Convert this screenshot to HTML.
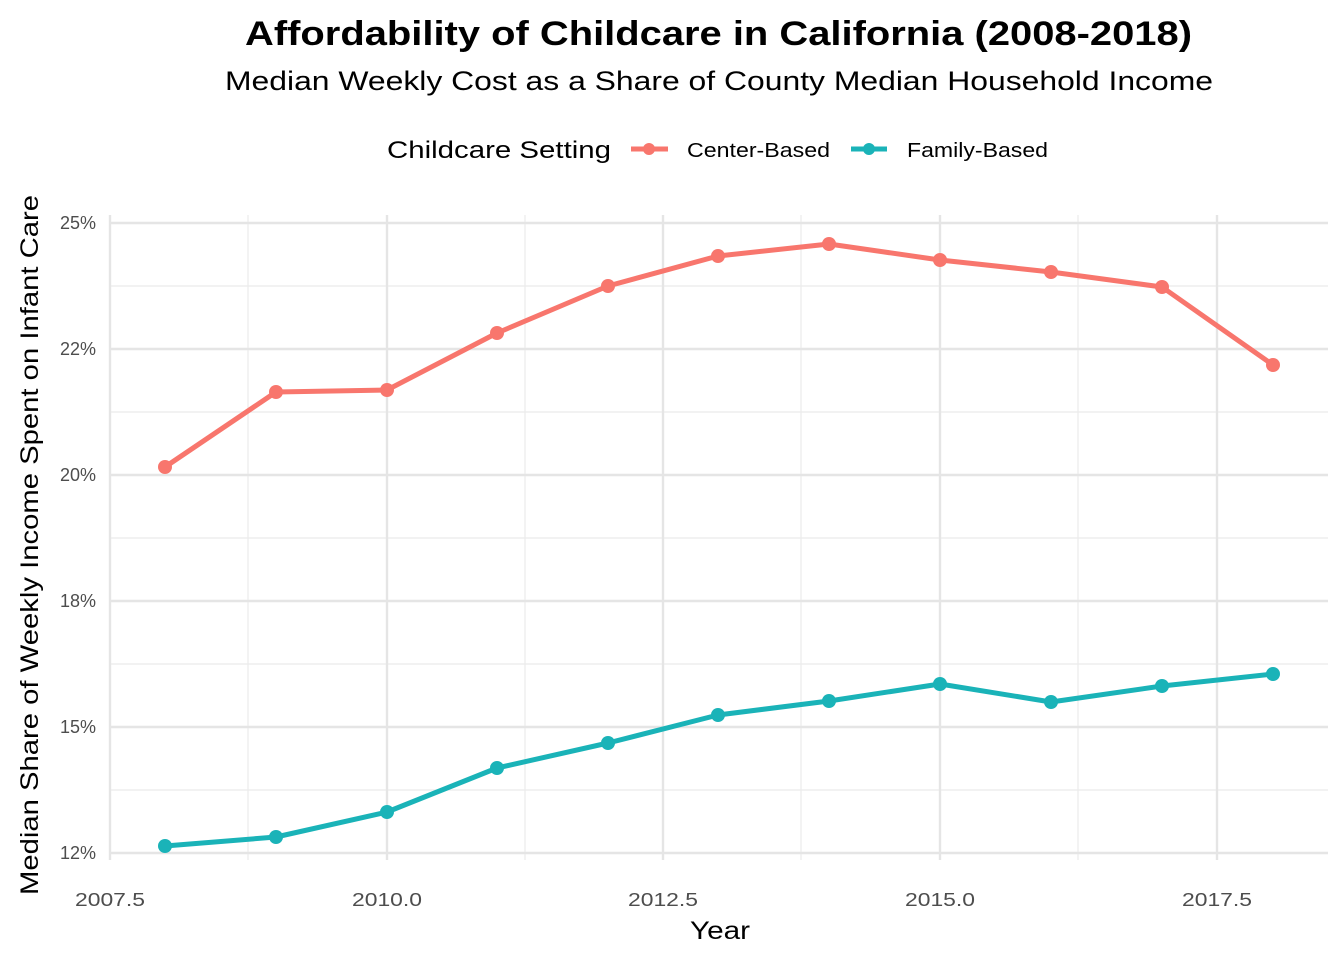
<!DOCTYPE html>
<html><head><meta charset="utf-8"><style>
body{margin:0;background:#fff}
svg{display:block;font-family:"Liberation Sans",Arial,sans-serif}
</style></head><body>
<svg width="1344" height="960" viewBox="0 0 1344 960" xmlns="http://www.w3.org/2000/svg">
<rect width="1344" height="960" fill="#fff"/>
<text x="245" y="45" font-size="34" font-weight="bold" fill="#000" textLength="947" lengthAdjust="spacingAndGlyphs">Affordability of Childcare in California (2008-2018)</text>
<text x="225" y="90" font-size="27" fill="#000" textLength="988" lengthAdjust="spacingAndGlyphs">Median Weekly Cost as a Share of County Median Household Income</text>
<text x="387" y="158" font-size="24" fill="#000" textLength="224" lengthAdjust="spacingAndGlyphs">Childcare Setting</text>
<line x1="631" y1="149" x2="668" y2="149" stroke="#F8766D" stroke-width="5"/>
<circle cx="649" cy="149" r="6" fill="#F8766D"/>
<text x="687" y="157" font-size="20" fill="#000" textLength="143" lengthAdjust="spacingAndGlyphs">Center-Based</text>
<line x1="851" y1="149" x2="887" y2="149" stroke="#1AB3B8" stroke-width="5"/>
<circle cx="869" cy="149" r="6" fill="#1AB3B8"/>
<text x="907" y="157" font-size="20" fill="#000" textLength="141" lengthAdjust="spacingAndGlyphs">Family-Based</text>
<g stroke="#ebebeb" stroke-width="1.2">
<line x1="110" y1="286" x2="1328" y2="286"/><line x1="110" y1="412" x2="1328" y2="412"/>
<line x1="110" y1="538" x2="1328" y2="538"/><line x1="110" y1="664" x2="1328" y2="664"/>
<line x1="110" y1="790" x2="1328" y2="790"/>
<line x1="248" y1="215" x2="248" y2="860"/><line x1="525" y1="215" x2="525" y2="860"/>
<line x1="801" y1="215" x2="801" y2="860"/><line x1="1078" y1="215" x2="1078" y2="860"/>
</g>
<g stroke="#e5e5e5" stroke-width="2.4">
<line x1="110" y1="223" x2="1328" y2="223"/><line x1="110" y1="349" x2="1328" y2="349"/>
<line x1="110" y1="475" x2="1328" y2="475"/><line x1="110" y1="601" x2="1328" y2="601"/>
<line x1="110" y1="727" x2="1328" y2="727"/><line x1="110" y1="853" x2="1328" y2="853"/>
<line x1="110" y1="215" x2="110" y2="860"/><line x1="387" y1="215" x2="387" y2="860"/>
<line x1="663" y1="215" x2="663" y2="860"/><line x1="940" y1="215" x2="940" y2="860"/>
<line x1="1217" y1="215" x2="1217" y2="860"/>
</g>
<g font-size="18" fill="#4d4d4d" text-anchor="end">
<text x="96" y="229">25%</text><text x="96" y="355">22%</text><text x="96" y="481">20%</text>
<text x="96" y="607">18%</text><text x="96" y="733">15%</text><text x="96" y="859">12%</text>
</g>
<g font-size="18" fill="#4d4d4d">
<text x="75" y="906" textLength="70" lengthAdjust="spacingAndGlyphs">2007.5</text>
<text x="352" y="906" textLength="70" lengthAdjust="spacingAndGlyphs">2010.0</text>
<text x="628" y="906" textLength="70" lengthAdjust="spacingAndGlyphs">2012.5</text>
<text x="905" y="906" textLength="70" lengthAdjust="spacingAndGlyphs">2015.0</text>
<text x="1182" y="906" textLength="70" lengthAdjust="spacingAndGlyphs">2017.5</text>
</g>
<text x="690" y="939" font-size="25" fill="#000" textLength="60" lengthAdjust="spacingAndGlyphs">Year</text>
<text transform="translate(38,895) rotate(-90)" font-size="25" fill="#000" textLength="700" lengthAdjust="spacingAndGlyphs">Median Share of Weekly Income Spent on Infant Care</text>
<polyline fill="none" stroke="#F8766D" stroke-width="5" stroke-linejoin="round" points="165,467 276,392 387,390 497,333 608,286 718,256 829,244 940,260 1051,272 1162,287 1273,365"/>
<g fill="#F8766D">
<circle cx="165" cy="467" r="7"/><circle cx="276" cy="392" r="7"/><circle cx="387" cy="390" r="7"/><circle cx="497" cy="333" r="7"/><circle cx="608" cy="286" r="7"/><circle cx="718" cy="256" r="7"/><circle cx="829" cy="244" r="7"/><circle cx="940" cy="260" r="7"/><circle cx="1051" cy="272" r="7"/><circle cx="1162" cy="287" r="7"/><circle cx="1273" cy="365" r="7"/>
</g>
<polyline fill="none" stroke="#1AB3B8" stroke-width="5" stroke-linejoin="round" points="165,846 276,837 387,812 497,768 608,743 718,715 829,701 940,684 1051,702 1162,686 1273,674"/>
<g fill="#1AB3B8">
<circle cx="165" cy="846" r="7"/><circle cx="276" cy="837" r="7"/><circle cx="387" cy="812" r="7"/><circle cx="497" cy="768" r="7"/><circle cx="608" cy="743" r="7"/><circle cx="718" cy="715" r="7"/><circle cx="829" cy="701" r="7"/><circle cx="940" cy="684" r="7"/><circle cx="1051" cy="702" r="7"/><circle cx="1162" cy="686" r="7"/><circle cx="1273" cy="674" r="7"/>
</g>
</svg>
</body></html>
